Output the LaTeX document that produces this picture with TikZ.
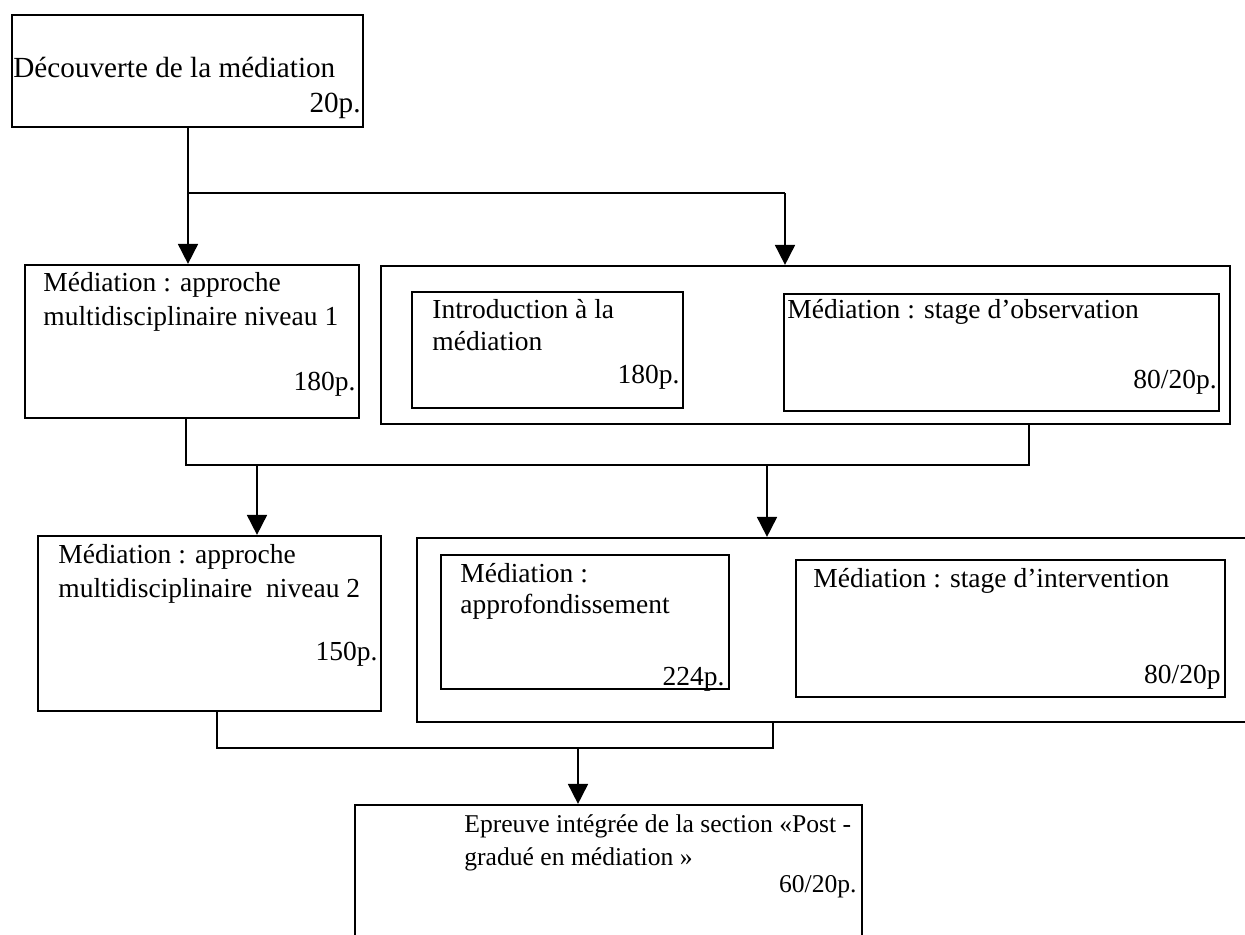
\documentclass[tikz,border=0pt]{standalone}
\usepackage{fontspec}
\setmainfont{Liberation Serif}
\usetikzlibrary{arrows.meta,fit}
\begin{document}
\begin{tikzpicture}[x=0.5pt,y=-0.5pt,
  box/.style={draw,line width=1.1pt,inner sep=0pt,fit={#1}},
  conn/.style={line width=0.9pt},
  arr/.style={line width=0.9pt,-{Triangle[length=10pt,width=10pt]}},
  txt/.style={inner sep=0pt,font=\fontsize{13.75}{16.5}\selectfont},
  tl/.style={txt,anchor=base west},
  tr/.style={txt,anchor=base east},
  small/.style={font=\fontsize{12.8}{15}\selectfont}]
\fill[white] (0,0) rectangle (1245,935);
\clip (0,0) rectangle (1245,935);
% boxes
\node[box={(12,15) (363,127)}] (b1) {};
\node[box={(25,265) (359,418)}] (b2) {};
\node[box={(381,266) (1230,424)}] (oA) {};
\node[box={(412,292) (683,408)}] (iA1) {};
\node[box={(784,294) (1219,411)}] (iA2) {};
\node[box={(38,536) (381,711)}] (b3) {};
\node[box={(417,538) (1262,722)}] (oB) {};
\node[box={(441,555) (729,689)}] (iB1) {};
\node[box={(796,560) (1225,697)}] (iB2) {};
\node[box={(355,805) (862,960)}] (b4) {};
% texts
\node[tl,font=\fontsize{14.6}{17}\selectfont] (t1a) at (13,78) {Découverte de la médiation};
\node[tr,font=\fontsize{14.6}{17}\selectfont] (t1b) at (361,113) {20p.};
\node[tl] (t2a) at (43,292) {Médiation : approche};
\node[tl] (t2b) at (43,325) {multidisciplinaire niveau 1};
\node[tr] (t2c) at (356,390) {180p.};
\node[tl] (t3a) at (432,318) {Introduction à la};
\node[tl] (t3b) at (432,350) {médiation};
\node[tr] (t3c) at (680,383) {180p.};
\node[tl] (t4a) at (787,318) {Médiation : stage d’observation};
\node[tr] (t4b) at (1217,388) {80/20p.};
\node[tl] (t5a) at (58,563) {Médiation : approche};
\node[tl] (t5b) at (58,597) {multidisciplinaire\ \ niveau 2};
\node[tr] (t5c) at (378,660) {150p.};
\node[tl] (t6a) at (460,582) {Médiation :};
\node[tl] (t6b) at (460,613) {approfondissement};
\node[tr] (t6c) at (725,685) {224p.};
\node[tl] (t7a) at (813,587) {Médiation : stage d’intervention};
\node[tr] (t7b) at (1221,683) {80/20p};
\node[tl,small] (t8a) at (464,832) {Epreuve intégrée de la section «Post -};
\node[tl,small] (t8b) at (464,865) {gradué en médiation »};
\node[tr,small] (t8c) at (857,892) {60/20p.};
% connectors
\coordinate (j1) at (188,193);
\coordinate (j2) at (785,193);
\draw[arr] (b1.south -| j1) -- (b2.north -| j1);
\draw[conn] (j1) -- (j2);
\draw[arr] (j2) -- (oA.north -| j2);
\coordinate (k1) at (186,465);
\coordinate (k2) at (1029,465);
\coordinate (k3) at (767,465);
\coordinate (k4) at (257,465);
\draw[conn] (b2.south -| k1) -- (k1) -- (k2) -- (oA.south -| k2);
\draw[arr] (k4) -- (b3.north -| k4);
\draw[arr] (k3) -- (oB.north -| k3);
\coordinate (m1) at (217,748);
\coordinate (m2) at (773,748);
\coordinate (m3) at (578,748);
\draw[conn] (b3.south -| m1) -- (m1) -- (m2) -- (oB.south -| m2);
\draw[arr] (m3) -- (b4.north -| m3);
\end{tikzpicture}
\end{document}
